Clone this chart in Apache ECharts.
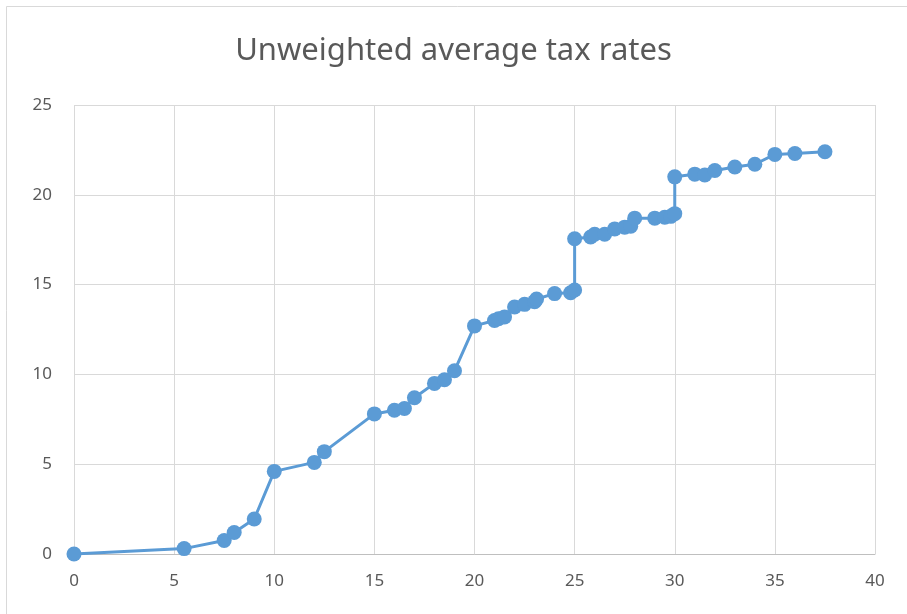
<!DOCTYPE html>
<html>
<head>
<meta charset="utf-8">
<script src="https://cdn.jsdelivr.net/npm/echarts@6/dist/echarts.min.js"></script>
<style>
  html, body { margin: 0; padding: 0; background: #ffffff; }
  #chart { width: 907px; height: 614px; }
</style>
</head>
<body>
<div id="chart"></div>
<script>
// statutory rate (x) vs unweighted average tax rate (y)
const xValues = [0, 5.5, 7.5, 8, 9, 10, 12, 12.5, 15, 16, 16.5, 17, 18, 18.5, 19, 20, 21, 21.2, 21.5, 22, 22.5, 23, 23.1, 24, 24.8, 25, 25, 25.8, 26, 26.5, 27, 27.5, 27.8, 28, 29, 29.5, 29.8, 30, 30, 31, 31.5, 32, 33, 34, 35, 36, 37.5]
const yValues = [0, 0.3, 0.75, 1.2, 1.95, 4.6, 5.1, 5.7, 7.8, 8.0, 8.1, 8.7, 9.5, 9.7, 10.2, 12.7, 13.0, 13.1, 13.2, 13.75, 13.9, 14.05, 14.2, 14.5, 14.55, 14.7, 17.55, 17.65, 17.8, 17.8, 18.1, 18.2, 18.25, 18.7, 18.7, 18.75, 18.8, 18.95, 21.0, 21.15, 21.1, 21.35, 21.55, 21.7, 22.25, 22.3, 22.4]
const xTicks = { min: 0, max: 40, interval: 5 }
const yTicks = { min: 0, max: 25, interval: 5 }

const points = xValues.map((x, i) => [x, yValues[i]])

const myChart = echarts.init(document.getElementById('chart'))
const option = {
  backgroundColor: '#ffffff',
  animation: false,
  title: {
    text: 'Unweighted average tax rates',
    left: 'center',
    top: 31,
    textStyle: {
      fontFamily: 'Noto Sans',
      fontSize: 31,
      fontWeight: 'normal',
      color: '#595959'
    }
  },
  graphic: [
    {
      type: 'rect',
      shape: { x: 6.5, y: 6.5, width: 920, height: 640 },
      style: { fill: 'none', stroke: '#d9d9d9', lineWidth: 1 },
      silent: true,
      z: -10
    }
  ],
  grid: {
    left: 74,
    right: 32,
    top: 105,
    bottom: 60
  },
  xAxis: {
    type: 'value',
    min: xTicks.min,
    max: xTicks.max,
    interval: xTicks.interval,
    axisLine: { show: true, lineStyle: { color: '#bfbfbf', width: 1 } },
    axisTick: { show: false },
    splitLine: { show: true, lineStyle: { color: '#d9d9d9', width: 1 } },
    axisLabel: {
      margin: 19,
      fontSize: 17,
      fontFamily: 'Noto Sans',
      color: '#595959'
    }
  },
  yAxis: {
    type: 'value',
    min: yTicks.min,
    max: yTicks.max,
    interval: yTicks.interval,
    axisLine: { show: false },
    axisTick: { show: false },
    splitLine: { show: true, lineStyle: { color: '#d9d9d9', width: 1 } },
    axisLabel: {
      margin: 22,
      fontSize: 17,
      fontFamily: 'Noto Sans',
      color: '#595959'
    }
  },
  series: [
    {
      type: 'line',
      data: points,
      symbol: 'circle',
      symbolSize: 15,
      showAllSymbol: true,
      itemStyle: { color: '#5b9bd5' },
      lineStyle: { color: '#5b9bd5', width: 3 }
    }
  ]
}
myChart.setOption(option, true)
</script>
</body>
</html>
